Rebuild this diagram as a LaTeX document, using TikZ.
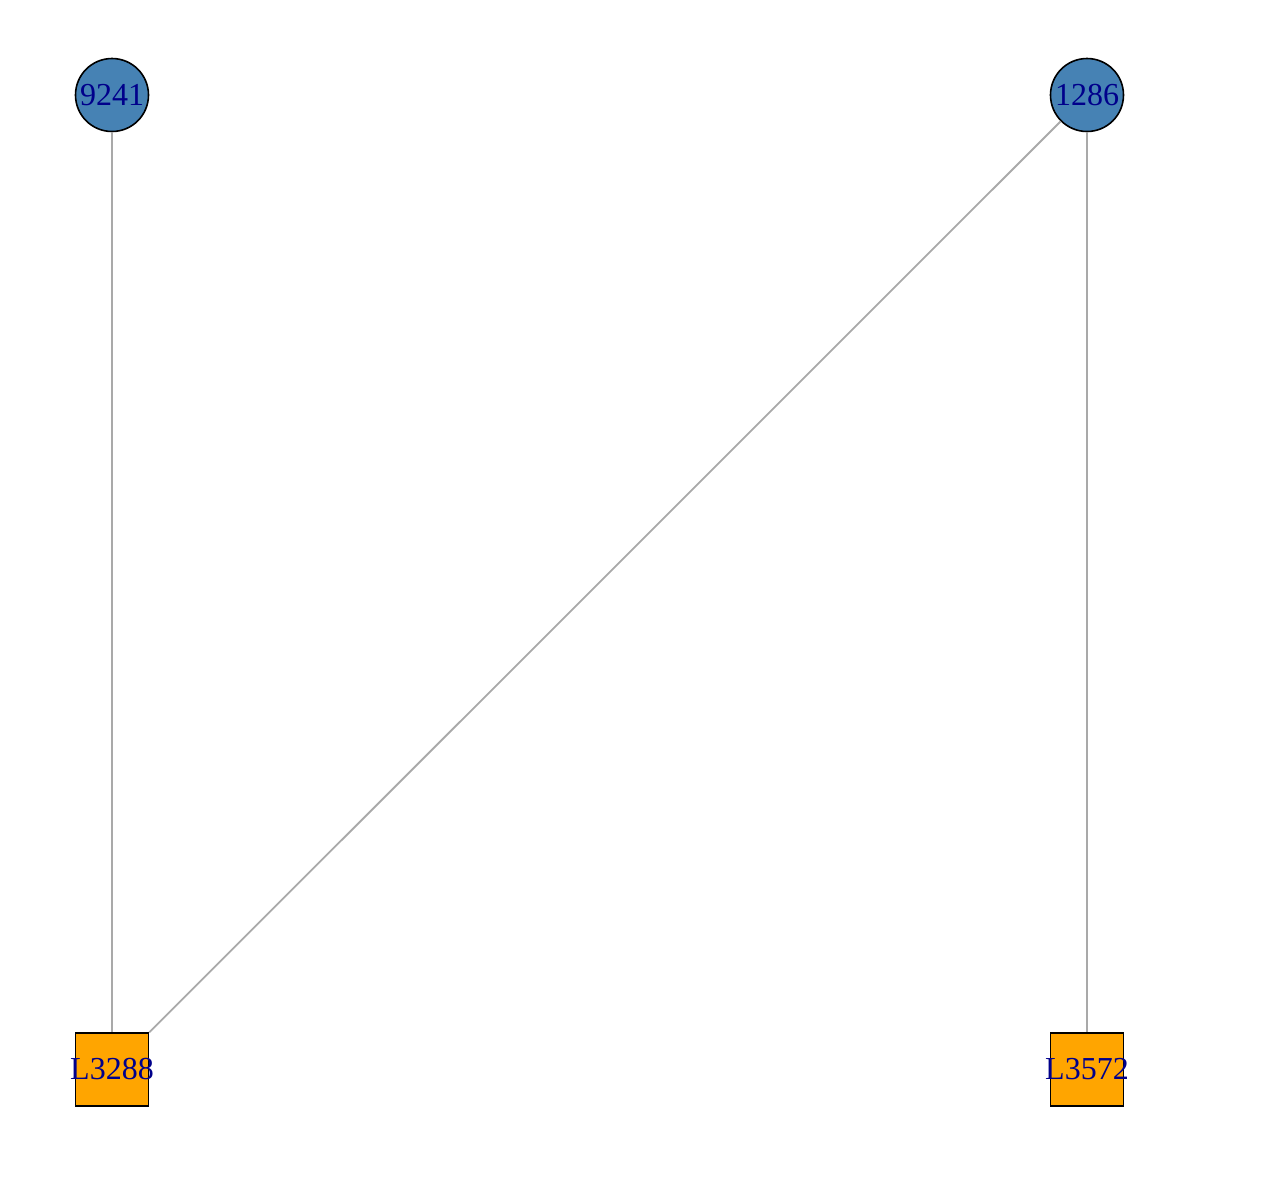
\documentclass[tikz,border=0pt]{standalone}
\usepackage{fontspec}
\setmainfont{Liberation Serif}
\definecolor{vblue}{HTML}{4682B4}
\definecolor{vorange}{HTML}{FFA500}
\definecolor{lblue}{HTML}{00008B}
\definecolor{egray}{HTML}{A9A9A9}
\begin{document}
\begin{tikzpicture}[x=1pt,y=-1pt,
  lbl/.style={text=lblue,font=\fontsize{32}{36}\selectfont,inner sep=0pt},
  cnode/.style={circle,draw=black,line width=1.6pt,fill=vblue,minimum size=73pt,inner sep=0pt},
  snode/.style={rectangle,draw=black,line width=1.6pt,fill=vorange,minimum size=73pt,inner sep=0pt},
  edge/.style={draw=egray,line width=1.8pt}]
\useasboundingbox (0,0) rectangle (1270,1184);
\node[cnode,label={[lbl]center:9241}] (a) at (112,95) {};
\node[cnode,label={[lbl]center:1286}] (b) at (1087,95) {};
\node[snode,label={[lbl]center:L3288}] (c) at (112,1069.5) {};
\node[snode,label={[lbl]center:L3572}] (d) at (1087,1069.5) {};
\draw[edge] (a) -- (c);
\draw[edge] (b) -- (c);
\draw[edge] (b) -- (d);
\end{tikzpicture}
\end{document}
